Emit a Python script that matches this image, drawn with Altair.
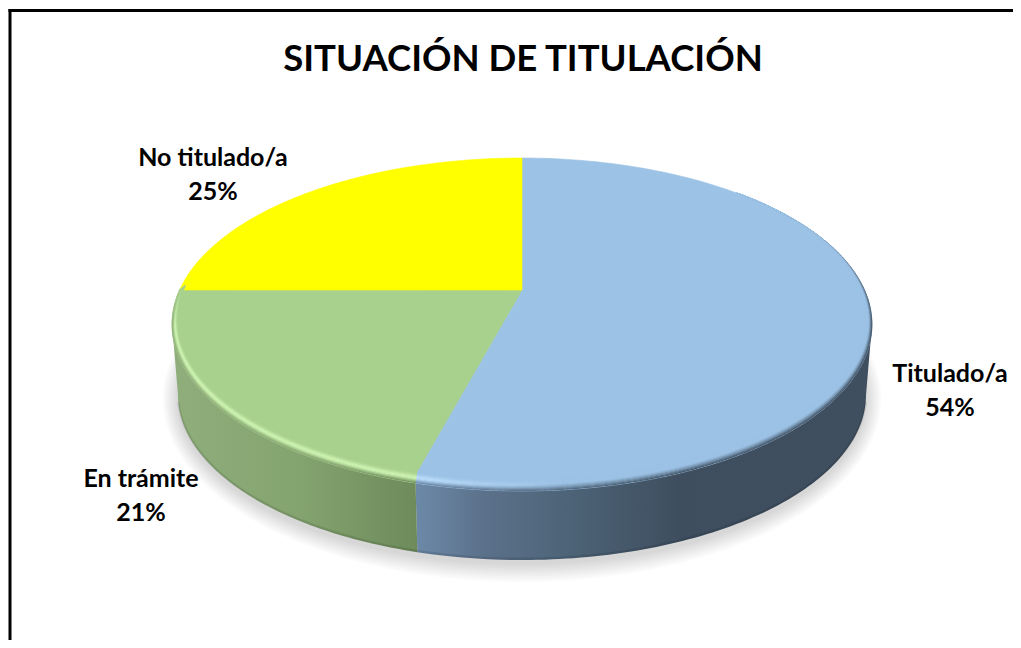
import math
import altair as alt
import pandas as pd

CATEGORIES = ["Titulado/a", "En trámite", "No titulado/a"]
SHARES = [54, 21, 25]
FACE_COLORS = ["#9cc2e5", "#a9d18e", "#ffff00"]
TITLE = ["SITUACIÓN DE TITULACIÓN"]
LABEL_X = [950, 141, 213]
LABEL_Y = [374, 479, 158]

# Drawing geometry, in page pixels
CX = 522
VERTEX_Y = 290
OUTER = dict(cy=324.5, rx=350, ry=166.5)
INNER = dict(cy=318.5, rx=344, ry=160.5)
BOTTOM = dict(cy=395, rx=344, ry=165)
PERSP_A, PERSP_B, PERSP_K = 342, 159.3, 0.207
BLUE_WALL = [(416, "#6c89a8"), (480, "#5c728c"), (560, "#4e6579"), (680, "#3e4e5f"), (880, "#3f4f5f")]
GREEN_WALL = [(170, "#8fae7b"), (300, "#83a36f"), (418, "#6d8b5b")]
PAGE_RIGHT, PAGE_BOTTOM = 1013, 640


def hex2rgb(c):
    return [int(c[i:i + 2], 16) for i in (1, 3, 5)]


def mix(a, b, t):
    t = max(0.0, min(1.0, t))
    ra, rb = hex2rgb(a), hex2rgb(b)
    return "#%02x%02x%02x" % tuple(round(p + (q - p) * t) for p, q in zip(ra, rb))


def wall_color(x, stops):
    if x <= stops[0][0]:
        return stops[0][1]
    for (x0, c0), (x1, c1) in zip(stops, stops[1:]):
        if x <= x1:
            return mix(c0, c1, (x - x0) / (x1 - x0))
    return stops[-1][1]


def ring(e, phi):
    return CX + e["rx"] * math.cos(phi), e["cy"] + e["ry"] * math.sin(phi)


def boundary_phi(fraction):
    """Angle on the outer ellipse of a slice edge, the pie seen in perspective."""
    t = math.radians(90 - 360 * fraction)
    d = 1 + PERSP_K * math.sin(t)
    px = PERSP_A * math.cos(t) / d
    py = PERSP_B * math.sin(t) / d  # upward
    return math.atan2(((VERTEX_Y - py) - OUTER["cy"]) / OUTER["ry"], px / OUTER["rx"])


def steps(a, b, n):
    return [a + (b - a) * i / n for i in range(n + 1)]


total = sum(SHARES)
phi_top = -math.pi / 2
phi_bg = boundary_phi(SHARES[0] / total) % (2 * math.pi)
phi_gy = boundary_phi((SHARES[0] + SHARES[1]) / total) % (2 * math.pi)

xs = alt.Scale(domain=[8, PAGE_RIGHT], range=[0, PAGE_RIGHT - 8], nice=False, zero=False)
ys = alt.Scale(domain=[8, PAGE_BOTTOM], range=[0, PAGE_BOTTOM - 8], nice=False, zero=False)
X = alt.X("x:Q", scale=xs, axis=None)
Y = alt.Y("y:Q", scale=ys, axis=None)


def polygon(points, **mark):
    df = pd.DataFrame(points, columns=["x", "y"]).assign(i=lambda d: range(len(d)))
    return alt.Chart(df).mark_line(interpolate="linear-closed", **mark).encode(
        x=X, y=Y, order=alt.Order("i:Q"))


# Border: left and top only
border = alt.Chart(pd.DataFrame({"x": [10, 8.5], "y": [9, 10.5],
                                 "x2": [10, PAGE_RIGHT], "y2": [PAGE_BOTTOM, 10.5]}))
border = border.mark_rule(color="#000000", strokeWidth=3).encode(
    x=X, y=Y, x2="x2:Q", y2="y2:Q")

# Soft shadow under the disc
shadow_layers = []
for j in range(10):
    e = dict(cy=BOTTOM["cy"] + 4, rx=BOTTOM["rx"] + 1 + j * 1.6, ry=BOTTOM["ry"] + 1 + j * 1.9)
    shadow_layers.append(polygon([ring(e, p) for p in steps(0, 2 * math.pi, 120)],
                                 fill="#000000", fillOpacity=0.014, strokeWidth=0, stroke="#000000",
                                 strokeOpacity=0))


def gradient(stops):
    lo, hi = stops[0][0], stops[-1][0]
    return alt.LinearGradient(gradient="linear", x1=0, x2=1, y1=0, y2=0,
                              stops=[alt.GradientStop(offset=(x - lo) / (hi - lo), color=c) for x, c in stops])


def wall(p0, p1, stops):
    pts = [ring(OUTER, p) for p in steps(p0, p1, 90)] + [ring(BOTTOM, p) for p in steps(p1, p0, 90)]
    xmin, xmax = min(q[0] for q in pts), max(q[0] for q in pts)
    st = [(xmin, wall_color(xmin, stops))] + [s for s in stops if xmin < s[0] < xmax] + [(xmax, wall_color(xmax, stops))]
    return polygon(pts, fill=gradient(st), strokeWidth=0, stroke="#000000", strokeOpacity=0)


walls = [wall(0.0, phi_bg, BLUE_WALL), wall(phi_bg, math.pi, GREEN_WALL)]

# Flat faces
blue_pts = [(CX, VERTEX_Y)] + [ring(OUTER, p) for p in steps(phi_top, phi_bg, 160)] + [ring(INNER, phi_bg)]
green_pts = [(CX, VERTEX_Y), ring(INNER, phi_bg)] + [ring(OUTER, p) for p in steps(phi_bg, phi_gy, 80)]
yellow_pts = [(CX, VERTEX_Y)] + [ring(OUTER, p) for p in steps(phi_gy, phi_top + 2 * math.pi, 80)]
faces = [polygon(p, fill=c, stroke=c, strokeWidth=0.6)
         for p, c in zip([blue_pts, green_pts, yellow_pts], FACE_COLORS)]

# Bevelled rim: short strokes whose colour follows the light
rim = []
N_U = 12


def rim_rows(p0, p1, n, base, hl, stops, high, fade):
    for k in range(n):
        a, b = p0 + (p1 - p0) * k / n, p0 + (p1 - p0) * (k + 1.15) / n
        for m in range(N_U):
            u = (m + 0.4) / N_U
            e = {key: INNER[key] + (OUTER[key] - INNER[key]) * u for key in OUTER}
            x0, y0 = ring(e, a)
            x1, y1 = ring(e, b)
            dark = min(1, max(0, (u - 0.45) / 0.55)) ** 1.3 * fade(a)
            c = mix(base, wall_color(x0, stops), dark)
            bump = math.exp(-(((u - 0.55) / 0.24) ** 2))
            c = mix(c, hl, high(x0, a) * bump * 0.9)
            rim.append(dict(x=x0, y=y0, x2=x1, y2=y1, c=c))


rim_rows(-0.9, phi_bg, 170, FACE_COLORS[0], "#c0e1ff", BLUE_WALL,
         lambda x, a: max(0, min(1, (570 - x) / 150)),
         lambda a: max(0, min(1, 1 + a / 0.9)))
rim_rows(phi_bg, phi_gy, 150, FACE_COLORS[1], "#d2f7b6", GREEN_WALL,
         lambda x, a: max(0, min(1, (phi_gy - a) / 0.25)),
         lambda a: max(0, min(1, (phi_gy - a) / 0.2)))
rim_layer = alt.Chart(pd.DataFrame(rim)).mark_rule(strokeWidth=1.25, strokeCap="butt").encode(
    x=X, y=Y, x2="x2:Q", y2="y2:Q", color=alt.Color("c:N", scale=None))

# Darker line along the foot of the wall
foot_df = pd.DataFrame([dict(x=ring(BOTTOM, p)[0], y=ring(BOTTOM, p)[1] - 1.2, i=i)
                        for i, p in enumerate(steps(0.05, math.pi - 0.05, 200))])
foot = alt.Chart(foot_df).mark_line(stroke="#000000", strokeOpacity=0.1, strokeWidth=2.4).encode(
    x=X, y=Y, order=alt.Order("i:Q"))

# Labels
labels_df = pd.DataFrame({
    "label": [f"{c}\n{s}%" for c, s in zip(CATEGORIES, SHARES)],
    "x": LABEL_X,
    "y": LABEL_Y,
})
labels = alt.Chart(labels_df).mark_text(
    font="Lato", fontWeight="bold", fontSize=25, color="#000000",
    lineBreak="\n", lineHeight=33.5, align="center", baseline="middle",
).encode(x=X, y=Y, text="label:N")

title = alt.Chart(pd.DataFrame({"label": TITLE, "x": [523], "y": [60]})).mark_text(
    font="Lato", fontWeight="bold", fontSize=36.5, color="#000000",
    align="center", baseline="middle",
).encode(x=X, y=Y, text="label:N")

chart = alt.layer(border, *shadow_layers, *walls, *faces, rim_layer, foot, labels, title).properties(
    width=PAGE_RIGHT - 8,
    height=PAGE_BOTTOM - 8,
    padding=0,
    autosize=alt.AutoSizeParams(type="none"),
    background="#ffffff",
).configure_view(stroke=None)

chart.save("out.html", embed_options={"renderer": "svg", "actions": False})
